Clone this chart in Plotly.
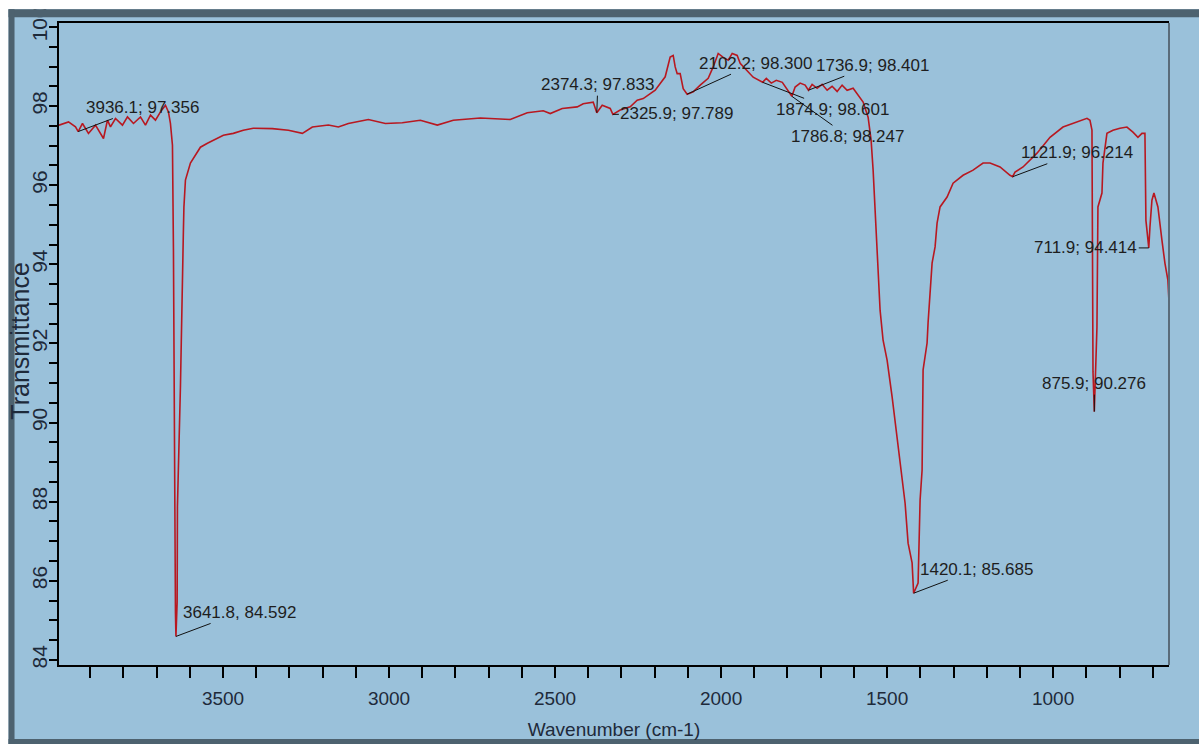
import plotly.graph_objects as go

# ---- data ----
wavenumber = [
    3994.0, 3965.4, 3944.3, 3936.1, 3923.3, 3905.2, 3884.1, 3860.0, 3848.0, 3839.0,
    3823.9, 3802.9, 3787.8, 3769.7, 3748.6, 3733.6, 3718.5, 3703.5, 3688.4, 3673.4,
    3664.4, 3658.4, 3652.3, 3649.3, 3643.3, 3641.8, 3638.2, 3637.3, 3628.3, 3622.3,
    3619.3, 3617.8, 3613.2, 3598.2, 3583.1, 3568.1, 3547.0, 3529.0, 3499.0, 3469.0,
    3439.0, 3409.0, 3351.3, 3303.1, 3261.0, 3230.9, 3182.7, 3152.6, 3122.5, 3062.3,
    3011.1, 2960.0, 2905.8, 2854.6, 2806.5, 2725.2, 2634.9, 2583.7, 2535.6, 2514.5,
    2478.4, 2433.2, 2415.2, 2385.1, 2374.3, 2358.0, 2333.9, 2325.9, 2303.8, 2273.7,
    2252.6, 2234.5, 2213.5, 2198.4, 2183.4, 2168.3, 2153.3, 2144.2, 2138.2, 2132.2,
    2123.2, 2114.1, 2102.2, 2084.0, 2062.9, 2038.8, 2023.8, 2008.7, 1993.6, 1978.5,
    1966.5, 1951.5, 1942.5, 1921.4, 1903.4, 1874.9, 1863.8, 1848.7, 1833.7, 1815.6,
    1786.8, 1777.0, 1761.9, 1746.9, 1736.9, 1725.8, 1710.7, 1695.7, 1680.6, 1665.6,
    1650.5, 1635.5, 1620.4, 1602.3, 1590.3, 1572.2, 1557.2, 1548.2, 1542.1, 1536.1,
    1530.1, 1521.1, 1512.1, 1500.0, 1484.9, 1475.9, 1466.9, 1454.8, 1445.8, 1436.8,
    1424.7, 1420.1, 1406.7, 1400.6, 1394.6, 1391.6, 1379.6, 1376.6, 1364.5, 1355.5,
    1349.5, 1340.5, 1319.4, 1301.3, 1271.2, 1241.1, 1211.0, 1190.0, 1159.9, 1129.8,
    1121.9, 1114.7, 1090.6, 1048.5, 1009.4, 970.3, 928.1, 898.0, 889.0, 883.0,
    879.9, 875.9, 868.0, 865.0, 852.9, 849.9, 837.9, 819.8, 798.7, 777.7,
    759.6, 744.5, 732.5, 723.5, 720.5, 711.9, 708.4, 702.4, 696.4, 684.4,
    672.3, 663.3, 654.3, 651.3,
]
transmittance = [
    97.517, 97.600, 97.474, 97.356, 97.560, 97.307, 97.517, 97.181, 97.643, 97.474,
    97.686, 97.517, 97.726, 97.560, 97.726, 97.517, 97.769, 97.643, 97.853, 98.022,
    97.853, 97.560, 97.010, 94.360, 85.200, 84.592, 85.460, 87.870, 90.900, 94.360,
    94.860, 95.440, 96.130, 96.560, 96.760, 96.960, 97.060, 97.140, 97.260, 97.310,
    97.390, 97.440, 97.430, 97.390, 97.310, 97.470, 97.520, 97.470, 97.560, 97.660,
    97.560, 97.580, 97.640, 97.520, 97.640, 97.700, 97.660, 97.830, 97.880, 97.810,
    97.940, 97.980, 98.060, 98.100, 97.833, 98.020, 97.940, 97.789, 97.900, 97.980,
    98.150, 98.190, 98.320, 98.400, 98.570, 98.740, 99.240, 99.280, 98.990, 98.820,
    98.820, 98.440, 98.300, 98.360, 98.530, 98.700, 98.990, 99.330, 99.230, 99.160,
    99.330, 99.280, 99.080, 98.900, 98.730, 98.601, 98.700, 98.580, 98.650, 98.600,
    98.247, 98.480, 98.580, 98.530, 98.401, 98.550, 98.450, 98.550, 98.400, 98.500,
    98.370, 98.530, 98.400, 98.450, 98.320, 98.100, 97.720, 97.140, 96.380, 95.450,
    94.280, 92.840, 92.080, 91.580, 90.650, 90.060, 89.480, 88.550, 87.960, 86.950,
    86.450, 85.685, 85.940, 88.040, 88.800, 91.330, 92.010, 92.520, 94.030, 94.440,
    95.040, 95.450, 95.700, 96.050, 96.250, 96.380, 96.560, 96.560, 96.460, 96.250,
    96.214, 96.330, 96.460, 96.810, 97.210, 97.470, 97.590, 97.690, 97.640, 97.390,
    91.280, 90.276, 92.410, 95.450, 95.800, 96.560, 97.310, 97.390, 97.440, 97.470,
    97.340, 97.210, 97.310, 97.310, 95.110, 94.414, 94.940, 95.620, 95.800, 95.450,
    94.610, 94.030, 93.600, 93.100,
]

# labelled peaks
peak_x = [3936.1, 3641.8, 2374.3, 2325.9, 2102.2, 1736.9, 1874.9, 1786.8, 1420.1, 1121.9, 711.9, 875.9]
peak_y = [97.356, 84.592, 97.833, 97.789, 98.300, 98.401, 98.601, 98.247, 85.685, 96.214, 94.414, 90.276]
peak_sep = ["; ", ", ", "; ", "; ", "; ", "; ", "; ", "; ", "; ", "; ", "; ", "; "]
# label offsets in pixels (layout, not data)
label_dx = [64, 64, 1, 64, 68, 64, 70, 56, 63, 64, -63, 0]
label_dy = [-24, -24, -28, -1, -31, -25, 27, 40, -24, -24, 0, -28]

x_ticks = [3500, 3000, 2500, 2000, 1500, 1000]
y_ticks = [84, 86, 88, 90, 92, 94, 96, 98, 100]

BG = "#9ac1da"
DARK = "#4d626f"
FONT = "Arial, Liberation Sans, sans-serif"
TXT = "#1e2a3a"

W, H = 1199, 744
L, R, T, B = 58.5, 30, 22.7, 79

fig = go.Figure()
fig.add_trace(go.Scatter(
    x=wavenumber, y=transmittance, mode="lines",
    line=dict(color="#b81820", width=1.6), showlegend=False, hoverinfo="x+y",
))

pw = W - L - R
ph = H - T - B

def px2x(p):
    return (p - L) / pw

def py2y(p):
    return (H - B - p) / ph

annotations = []
for px_, py_, sep, dx, dy in zip(peak_x, peak_y, peak_sep, label_dx, label_dy):
    annotations.append(dict(
        x=px_, y=py_, xref="x", yref="y",
        text=f"{px_:.1f}{sep}{py_:.3f}",
        showarrow=True, arrowhead=0, arrowwidth=1, arrowcolor="#111111",
        ax=dx, ay=dy, standoff=0,
        font=dict(family=FONT, size=17, color="#1e1e1e"),
    ))
# y-axis title (vertical text placed precisely)
annotations.append(dict(
    text="Transmittance", xref="paper", yref="paper",
    x=px2x(20), y=py2y(341), xanchor="center", yanchor="middle",
    textangle=-90, showarrow=False,
    font=dict(family=FONT, size=25, color=TXT),
))

shapes = [
    # right frame line (grey)
    dict(type="line", xref="paper", yref="paper", x0=1, x1=1, y0=0, y1=1,
         line=dict(color="#5a6c7a", width=2), layer="above"),
    # white strip at top and left
    dict(type="rect", xref="paper", yref="paper", x0=px2x(-5), x1=px2x(W + 5),
         y0=py2y(9), y1=py2y(-5), fillcolor="white", line=dict(width=0), layer="above"),
    dict(type="rect", xref="paper", yref="paper", x0=px2x(-5), x1=px2x(8),
         y0=py2y(H + 5), y1=py2y(-5), fillcolor="white", line=dict(width=0), layer="above"),
    # dark frame bands
    dict(type="rect", xref="paper", yref="paper", x0=px2x(8), x1=px2x(W + 5),
         y0=py2y(17), y1=py2y(9), fillcolor=DARK, line=dict(width=0), layer="above"),
    dict(type="rect", xref="paper", yref="paper", x0=px2x(8), x1=px2x(14),
         y0=py2y(H + 5), y1=py2y(9), fillcolor=DARK, line=dict(width=0), layer="above"),
    dict(type="rect", xref="paper", yref="paper", x0=px2x(8), x1=px2x(W + 5),
         y0=py2y(H + 5), y1=py2y(739), fillcolor=DARK, line=dict(width=0), layer="above"),
]

fig.update_layout(
    width=W, height=H,
    margin=dict(l=L, r=R, t=T, b=B, pad=0, autoexpand=False),
    paper_bgcolor=BG, plot_bgcolor=BG,
    font=dict(family=FONT, size=19, color=TXT),
    annotations=annotations, shapes=shapes,
    showlegend=False,
    xaxis=dict(
        range=[3994, 651], autorange=False,
        tickmode="array", tickvals=x_ticks, ticktext=[str(v) for v in x_ticks],
        ticks="outside", ticklen=11, tickwidth=2, tickcolor="black",
        minor=dict(dtick=100, tick0=0, ticks="outside", ticklen=11, tickwidth=2, tickcolor="black"),
        showline=True, linecolor="black", linewidth=2, mirror=True,
        showgrid=False, zeroline=False,
        tickfont=dict(family=FONT, size=19, color=TXT),
        ticklabelstandoff=4,
        title=dict(text="Wavenumber (cm-1)", font=dict(family=FONT, size=19, color=TXT), standoff=15),
    ),
    yaxis=dict(
        range=[83.87, 100.1], autorange=False,
        tickmode="array", tickvals=y_ticks, ticktext=[str(v) for v in y_ticks],
        tickangle=-90,
        ticks="outside", ticklen=8, tickwidth=2, tickcolor="black",
        minor=dict(dtick=0.5, tick0=0, ticks="outside", ticklen=8, tickwidth=2, tickcolor="black"),
        showline=True, linecolor="black", linewidth=2, mirror=False,
        showgrid=False, zeroline=False,
        tickfont=dict(family=FONT, size=21, color=TXT),
        ticklabelstandoff=-6,
    ),
)

fig.write_html(
    "out.html",
    config={"displayModeBar": False},
    post_script="document.body.style.margin='0px';document.body.style.overflow='hidden';",
)
